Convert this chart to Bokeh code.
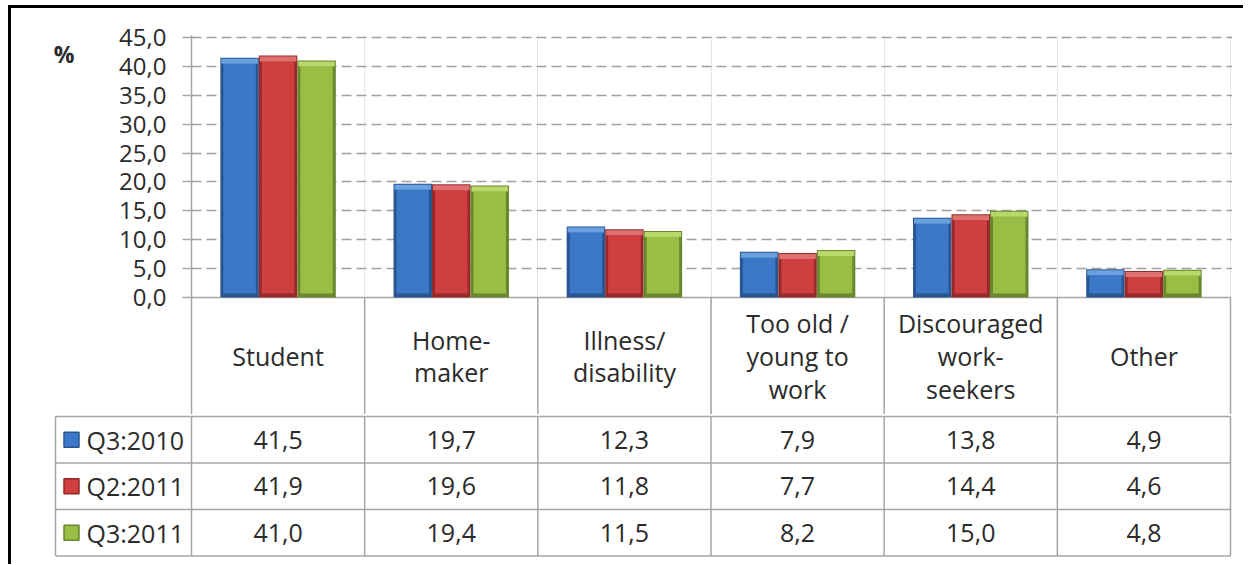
import numpy as np
from bokeh.plotting import figure
from bokeh.models import Range1d, FixedTicker, CustomJSTickFormatter, LinearAxis
from bokeh.layouts import column
from bokeh.core.properties import value
from bokeh.embed import file_html
from bokeh.resources import INLINE

# ---------------- data ----------------
categories = ["Student", "Home-\nmaker", "Illness/\ndisability",
              "Too old /\nyoung to\nwork", "Discouraged\nwork-\nseekers", "Other"]
series_names = ["Q3:2010", "Q2:2011", "Q3:2011"]
q3_2010 = [41.5, 19.7, 12.3, 7.9, 13.8, 4.9]
q2_2011 = [41.9, 19.6, 11.8, 7.7, 14.4, 4.6]
q3_2011 = [41.0, 19.4, 11.5, 8.2, 15.0, 4.8]
y_ticks = [0, 5, 10, 15, 20, 25, 30, 35, 40, 45]
unit_label = "%"

# ---------------- style ----------------
series_values = [q3_2010, q2_2011, q3_2011]
main_colors = ["#3b78c7", "#cf3f3f", "#9abd45"]
edge_colors = ["#2a5690", "#962a2a", "#6a862e"]
light_colors = ["#74aef0", "#ec7c7c", "#c8e574"]

FONT = "Open Sans"
FSIZE = "25px"
TEXT = "#2b2b2b"
LINE = "#a6a6a6"
GRID = "#a0a0a0"

W = 1232
ncat = len(categories)
col_px = (1230 - 191) / ncat          # pixels per category column
unit_y = 260 / 45                     # pixels per y unit
px_x = 1 / col_px
px_y = 1 / unit_y
bw = 1 / 4.5                          # bar width (gap width 150 %)

# ---------------- top figure: bars + category header ----------------
hA = 406
topA = 27
y_end = 45 + 2 * px_y
y_start = y_end - (hA - topA) * px_y
pa = figure(width=W, height=hA,
            x_range=Range1d(0, (1232 - 191) * px_x),
            y_range=Range1d(y_start, y_end),
            x_axis_location=None, toolbar_location=None, output_backend="svg",
            min_border_left=180, min_border_right=11, min_border_top=topA,
            min_border_bottom=0, outline_line_color=None, frame_align=False,
            background_fill_color="white", border_fill_color="white")

ya = pa.yaxis[0]
ya.ticker = FixedTicker(ticks=y_ticks)
ya.formatter = CustomJSTickFormatter(code="return tick.toFixed(1).replace('.', ',')")
ya.major_label_text_font = FONT
ya.major_label_text_font_size = "24px"
ya.major_label_text_color = TEXT
ya.major_label_standoff = 16
ya.axis_line_color = LINE
ya.axis_line_width = 1.5
ya.major_tick_line_color = LINE
ya.major_tick_line_width = 1.5
ya.major_tick_out = 9
ya.major_tick_in = 0
ya.minor_tick_line_color = None

# unit label "%" as an extra (line-less) axis label next to the top ticks
pct_axis = LinearAxis(ticker=FixedTicker(ticks=[45 - 16 * px_y]),
                      formatter=CustomJSTickFormatter(code=f"return '{unit_label}'"),
                      axis_line_color=None, major_tick_line_color=None,
                      minor_tick_line_color=None, major_tick_out=0, major_tick_in=0,
                      major_label_standoff=42, major_label_text_font=FONT,
                      major_label_text_font_size="23px", major_label_text_font_style="bold",
                      major_label_text_color=TEXT)
pa.add_layout(pct_axis, "left")

pa.ygrid.ticker = FixedTicker(ticks=y_ticks[1:])
pa.ygrid.grid_line_color = GRID
pa.ygrid.grid_line_width = 1.5
pa.ygrid.grid_line_dash = "10 5"

# baseline
pa.segment(x0=[0], y0=[0], x1=[ncat], y1=[0], line_color=LINE, line_width=1.5)

# bars with a bevel look
centers = np.arange(ncat) + 0.5
for s, vals in enumerate(series_values):
    v = np.array(vals)
    xs = centers + (s - 1) * bw
    pa.vbar(x=xs, width=bw, top=v, bottom=0, fill_color=edge_colors[s], line_color=None)
    pa.vbar(x=xs, width=bw - 6 * px_x, top=v - 6 * px_y, bottom=4 * px_y,
            fill_color=main_colors[s], line_color=None)
    pa.vbar(x=xs, width=bw - 2 * px_x, top=v - 1 * px_y, bottom=v - 6 * px_y,
            fill_color=light_colors[s], fill_alpha=0.85, line_color=None)

# header row lines
bounds = np.arange(1, ncat + 1)
pa.segment(x0=bounds, y0=[y_start] * ncat, x1=bounds, y1=[0] * ncat,
           line_color=LINE, line_width=1.5)

# header texts
pa.text(x=centers, y=[y_start / 2] * ncat, text=categories,
        text_font=value(FONT), text_font_size=FSIZE, text_color=TEXT,
        text_align="center", text_baseline="middle", text_line_height=0.97)

# ---------------- bottom figure: data table ----------------
row_px = 46.5
hB = 143
x0B = (53 - 191) * px_x
pb = figure(width=W, height=hB,
            x_range=Range1d(x0B, (1232 - 191) * px_x),
            y_range=Range1d(-1.5 / row_px, 3 + 2 / row_px),
            x_axis_location=None, y_axis_location=None,
            toolbar_location=None, output_backend="svg",
            min_border_left=42, min_border_right=11, min_border_top=0,
            min_border_bottom=0, outline_line_color=None, frame_align=False,
            background_fill_color="white", border_fill_color="white")
pb.xgrid.visible = False
pb.ygrid.visible = False

left_x = (55 - 191) * px_x
nrows = len(series_names)
hy = np.arange(nrows + 1)
pb.segment(x0=[left_x] * (nrows + 1), y0=hy, x1=[ncat] * (nrows + 1), y1=hy,
           line_color=LINE, line_width=1.5)
vx = np.concatenate([[left_x], np.arange(ncat + 1)])
pb.segment(x0=vx, y0=[0] * len(vx), x1=vx, y1=[nrows] * len(vx),
           line_color=LINE, line_width=1.5)

for s, vals in enumerate(series_values):
    yrow = nrows - 0.5 - s
    pb.text(x=centers, y=[yrow] * ncat,
            text=[f"{v:.1f}".replace(".", ",") for v in vals],
            text_font=value(FONT), text_font_size=FSIZE, text_color=TEXT,
            text_align="center", text_baseline="middle")
    pb.scatter(x=[(71 - 191) * px_x], y=[yrow], marker="square", size=15,
               fill_color=main_colors[s], line_color=edge_colors[s], line_width=1.5)
    pb.text(x=[(86 - 191) * px_x], y=[yrow], text=[series_names[s]],
            text_font=value(FONT), text_font_size=FSIZE, text_color=TEXT,
            text_align="left", text_baseline="middle")

layout = column(pa, pb, spacing=0,
                styles={"border-left": "3px solid black", "border-top": "3px solid black",
                        "margin-left": "8px", "margin-top": "5px", "padding-bottom": "7px"})

open("out.html", "w").write(file_html(layout, INLINE))
